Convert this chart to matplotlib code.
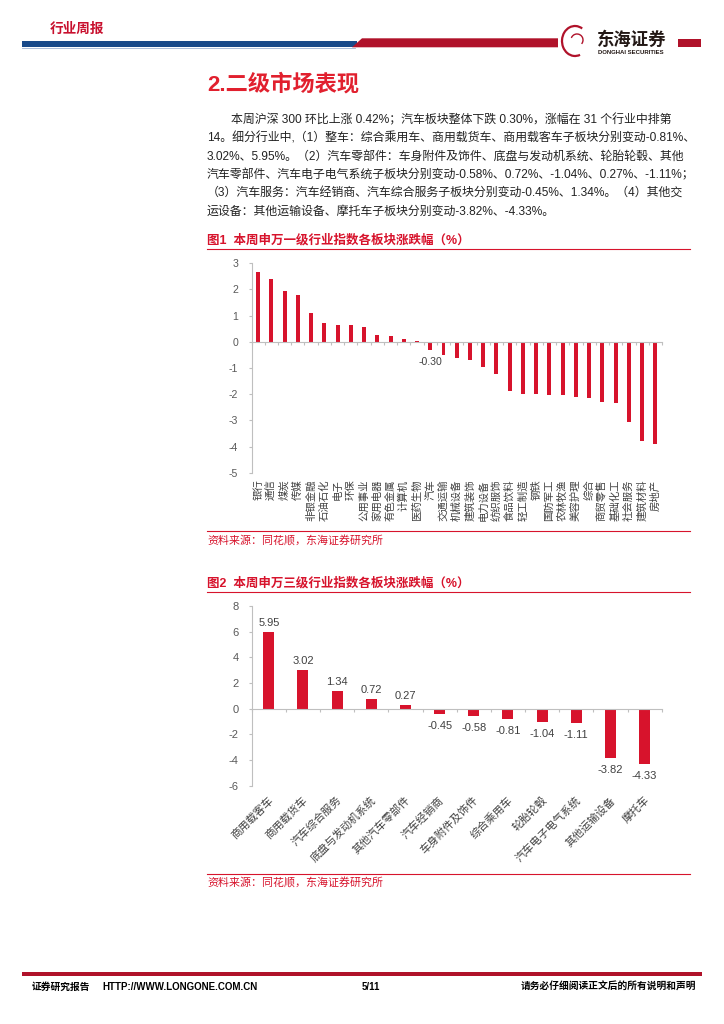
import numpy as np
import matplotlib
matplotlib.use('Agg')
import matplotlib.pyplot as plt
from matplotlib.patches import Polygon, Rectangle, Arc
from matplotlib.transforms import blended_transform_factory

plt.rcParams['font.family'] = ['Liberation Sans', 'Noto Sans CJK SC']
plt.rcParams['axes.unicode_minus'] = False

# 图1 本周申万一级行业指数各板块涨跌幅(%)
sw1_names = ['银行', '通信', '煤炭', '传媒', '非银金融', '石油石化', '电子', '环保',
             '公用事业', '家用电器', '有色金属', '计算机', '医药生物', '汽车', '交通运输',
             '机械设备', '建筑装饰', '电力设备', '纺织服饰', '食品饮料', '轻工制造', '钢铁',
             '国防军工', '农林牧渔', '美容护理', '综合', '商贸零售', '基础化工', '社会服务',
             '建筑材料', '房地产']
sw1_chg = [2.65, 2.41, 1.94, 1.80, 1.09, 0.71, 0.66, 0.66, 0.57, 0.25, 0.23, 0.09,
           0.05, -0.30, -0.51, -0.63, -0.71, -0.95, -1.22, -1.89, -2.00, -2.01, -2.03,
           -2.05, -2.09, -2.13, -2.29, -2.32, -3.06, -3.78, -3.90]
sw1_marked = ['汽车']

# 图2 本周申万三级行业指数各板块涨跌幅(%)
sw3_names = ['商用载客车', '商用载货车', '汽车综合服务', '底盘与发动机系统', '其他汽车零部件',
             '汽车经销商', '车身附件及饰件', '综合乘用车', '轮胎轮毂', '汽车电子电气系统',
             '其他运输设备', '摩托车']
sw3_chg = [5.95, 3.02, 1.34, 0.72, 0.27, -0.45, -0.58, -0.81, -1.04, -1.11, -3.82, -4.33]

para_lines = [
    '本周沪深 300 环比上涨 0.42%；汽车板块整体下跌 0.30%，涨幅在 31 个行业中排第',
    '14。细分行业中,（1）整车：综合乘用车、商用载货车、商用载客车子板块分别变动-0.81%、',
    '3.02%、5.95%。（2）汽车零部件：车身附件及饰件、底盘与发动机系统、轮胎轮毂、其他',
    '汽车零部件、汽车电子电气系统子板块分别变动-0.58%、0.72%、-1.04%、0.27%、-1.11%；',
    '（3）汽车服务：汽车经销商、汽车综合服务子板块分别变动-0.45%、1.34%。（4）其他交',
    '运设备：其他运输设备、摩托车子板块分别变动-3.82%、-4.33%。',
]

W, H = 724, 1024
RED = '#D7132C'
DARKRED = '#B0122A'
BLUE = '#184A8A'
AXC = '#BFBFBF'
TXT = '#404040'

fig = plt.figure(figsize=(W / 100, H / 100), dpi=100)
page = fig.add_axes([0, 0, 1, 1], zorder=0)
page.set_xlim(0, W)
page.set_ylim(H, 0)
page.axis('off')


def box(l, t, r, b):
    return [l / W, 1 - b / H, (r - l) / W, (b - t) / H]


# header
page.text(50, 29, '行业周报', color='#C8102E', fontsize=9.8, weight='bold', va='center')
page.add_patch(Rectangle((22, 41), 335, 6.3, color=BLUE, lw=0))
page.plot([22, 355], [47.8, 47.8], color='#9DB3D3', lw=0.6)
page.add_patch(Polygon([(352, 47.3), (362, 38.3), (558, 38.3), (558, 47.3)], color=DARKRED, lw=0))
page.add_patch(Rectangle((678, 39), 23, 7.7, color=DARKRED, lw=0))
page.add_patch(Arc((575, 41), 26, 30, theta1=70, theta2=300, color=DARKRED, lw=1.6))
page.add_patch(Arc((577, 40), 12, 12, theta1=200, theta2=40, color=DARKRED, lw=1.0))
page.text(597, 39, '东海证券', color='#231815', fontsize=12.5, weight='bold', va='center')
page.text(598, 52.5, 'DONGHAI SECURITIES', color='#231815', fontsize=4.3, weight='bold', va='center')

# section title and text
page.text(207, 85, '2.二级市场表现', color='#E1202E', fontsize=16, weight='bold', va='center')
for k, line in enumerate(para_lines):
    x0 = 231 if k == 0 else 207
    page.text(x0, 120.5 + k * 18.2, line, fontsize=8.6, color='#222222', va='center')

# figure 1 caption
page.text(207, 240, '图1  本周申万一级行业指数各板块涨跌幅（%）', color=RED, fontsize=9, weight='bold', va='center')
page.plot([207, 690], [248.5, 248.5], color=RED, lw=0.8)
page.plot([207, 690], [530.7, 530.7], color=RED, lw=0.8)
page.text(207, 540.5, '资料来源：同花顺，东海证券研究所', color=RED, fontsize=7.9, va='center')

# figure 2 caption
page.text(207, 583, '图2  本周申万三级行业指数各板块涨跌幅（%）', color=RED, fontsize=9, weight='bold', va='center')
page.plot([207, 690], [592, 592], color=RED, lw=0.8)
page.plot([207, 690], [874, 874], color=RED, lw=0.8)
page.text(207, 882, '资料来源：同花顺，东海证券研究所', color=RED, fontsize=7.9, va='center')

# footer
page.add_patch(Rectangle((22, 971.7), 679.7, 4.3, color=DARKRED, lw=0))
page.text(32, 987, '证券研究报告', fontsize=7, weight='bold', va='center', color='black')
page.text(102, 987, 'HTTP://WWW.LONGONE.COM.CN', fontsize=7, weight='bold', va='center', color='black')
page.text(362, 987, '5/11', fontsize=7, weight='bold', va='center', color='black')
page.text(696, 987, '请务必仔细阅读正文后的所有说明和声明', fontsize=7, weight='bold', va='center',
          ha='right', color='black')


def style_axes(ax, n, fs):
    for s in ['top', 'right']:
        ax.spines[s].set_visible(False)
    ax.spines['left'].set_color(AXC)
    ax.spines['bottom'].set_color(AXC)
    ax.spines['left'].set_linewidth(0.8)
    ax.spines['bottom'].set_linewidth(0.8)
    ax.spines['bottom'].set_position(('data', 0))
    ax.set_xlim(-0.5, n - 0.5)
    ax.set_xticks(np.arange(n))
    ax.set_xticklabels([])
    ax.set_xticks(np.arange(n + 1) - 0.5, minor=True)
    ax.tick_params(axis='x', which='major', length=0)
    ax.tick_params(axis='x', which='minor', length=2.5, color=AXC, width=0.8, direction='out')
    ax.tick_params(axis='y', length=2.5, color=AXC, width=0.8, labelsize=fs, labelcolor='#595959', pad=7)
    ax.patch.set_alpha(0)


# chart 1
ax1 = fig.add_axes(box(251.5, 263.3, 662, 472.7), zorder=2)
n1 = len(sw1_names)
x1 = np.arange(n1)
ax1.bar(x1, sw1_chg, width=0.3, color=RED)
ax1.set_ylim(-5, 3)
ax1.set_yticks(range(-5, 4))
style_axes(ax1, n1, 7.6)
tr1 = blended_transform_factory(ax1.transData, ax1.transAxes)
for i, name in enumerate(sw1_names):
    ax1.annotate(name, xy=(i, 0), xycoords=tr1, xytext=(0, -5), textcoords='offset points',
                 rotation=90, ha='center', va='top', fontsize=7.5, color=TXT)
    if name in sw1_marked:
        ax1.annotate(f'{sw1_chg[i]:.2f}', xy=(i, sw1_chg[i]), xytext=(0, -5),
                     textcoords='offset points', ha='center', va='top', fontsize=7.6, color=TXT)

# chart 2
ax2 = fig.add_axes(box(251.7, 606, 661.7, 785.7), zorder=2)
n2 = len(sw3_names)
x2 = np.arange(n2)
ax2.bar(x2, sw3_chg, width=0.32, color=RED)
ax2.set_ylim(-6, 8)
ax2.set_yticks(range(-6, 9, 2))
style_axes(ax2, n2, 8)
tr2 = blended_transform_factory(ax2.transData, ax2.transAxes)
for i, name in enumerate(sw3_names):
    ax2.annotate(name, xy=(i, 0), xycoords=tr2, xytext=(2, -9), textcoords='offset points',
                 rotation=45, ha='right', va='center', rotation_mode='anchor', fontsize=7.8, color=TXT)
    v = sw3_chg[i]
    ax2.annotate(f'{v:.2f}', xy=(i, v), xytext=(0, 3 if v > 0 else -5), textcoords='offset points',
                 ha='center', va='bottom' if v > 0 else 'top', fontsize=8, color=TXT)

fig.savefig('out.png', dpi=100)
